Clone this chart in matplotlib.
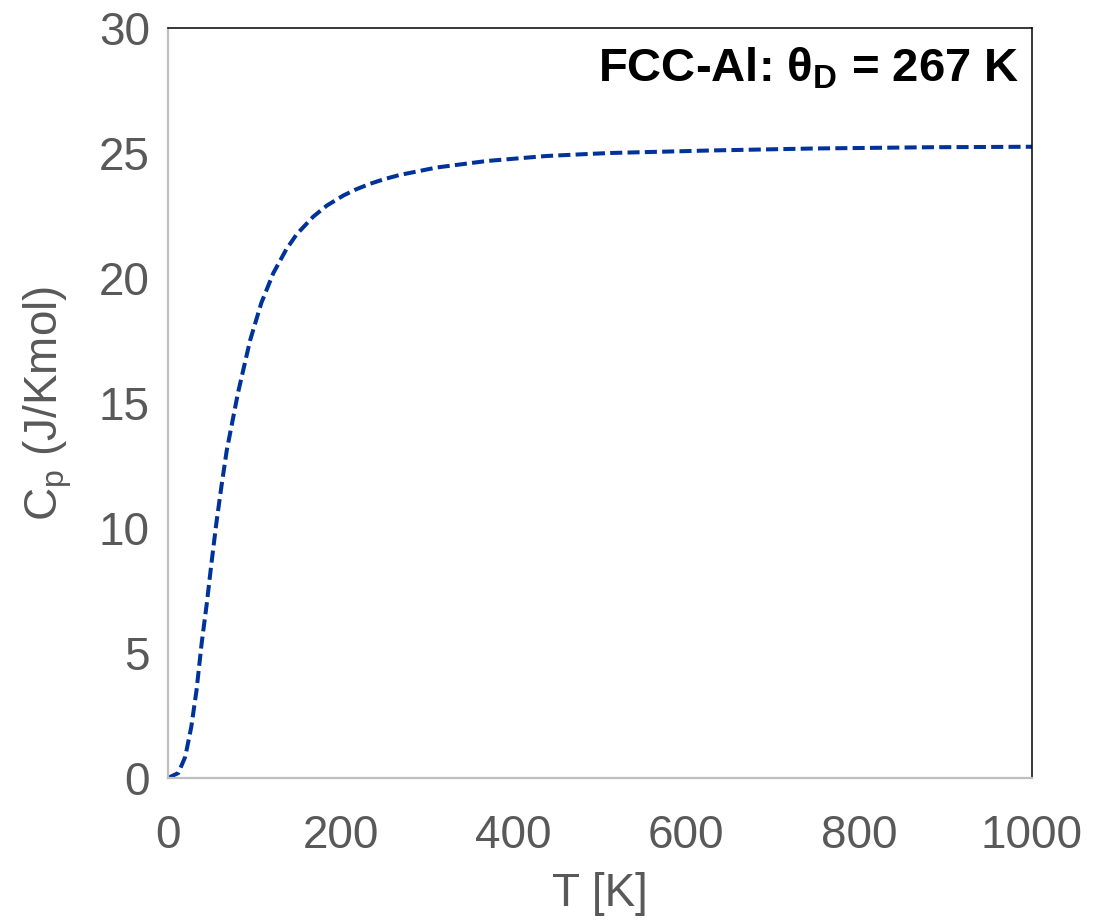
# ------------------------------------------------------------
# Imports
# ------------------------------------------------------------
import matplotlib
matplotlib.use("Agg")
import matplotlib.pyplot as plt


# ------------------------------------------------------------
# Data (T in K, Cp in J/Kmol)
# ------------------------------------------------------------
temp_K = [0, 12, 20, 27, 33, 39, 45, 50, 56, 62, 68, 81, 95, 108, 122,
          137, 149, 168, 184, 203, 218, 234, 250, 268, 311, 369, 438,
          492, 512, 627, 747, 882, 1000]
cp = [0, 0.2, 0.85, 2.05, 3.5, 5.4, 7.0, 8.5, 10.2, 11.7, 13.1, 15.4,
      17.5, 19.0, 20.2, 21.15, 21.75, 22.45, 22.9, 23.3, 23.55, 23.77, 23.95,
      24.12, 24.42, 24.68, 24.88, 24.97, 25.0, 25.1, 25.18, 25.23, 25.25]

x_ticks = [0, 200, 400, 600, 800, 1000]
y_ticks = [0, 5, 10, 15, 20, 25, 30]

label_text = "FCC-Al: θ$_\\mathbf{D}$ = 267 K"


# ------------------------------------------------------------
# Fonts
# ------------------------------------------------------------
plt.rcParams["font.family"] = ["Liberation Sans", "DejaVu Sans"]
plt.rcParams["mathtext.fontset"] = "custom"
plt.rcParams["mathtext.rm"] = "Liberation Sans"
plt.rcParams["mathtext.it"] = "Liberation Sans:italic"
plt.rcParams["mathtext.bf"] = "Liberation Sans:bold"

grey = "#595959"


# ------------------------------------------------------------
# Plot
# ------------------------------------------------------------
fig = plt.figure(figsize=(11.03, 9.21), dpi=100)
ax = fig.add_axes([0.1523, 0.1553, 0.7833, 0.8143])

ax.plot(temp_K, cp, color="#003399", lw=2.9, linestyle=(0, (3, 1.3)))

ax.set_xlim(0, 1000)
ax.set_ylim(0, 30)
ax.set_xticks(x_ticks)
ax.set_yticks(y_ticks)

ax.tick_params(axis="both", length=0, labelsize=33, labelcolor=grey)
ax.tick_params(axis="x", pad=26)
ax.tick_params(axis="y", pad=13)

for side in ["left", "bottom"]:
    ax.spines[side].set_color("#BFBFBF")
    ax.spines[side].set_linewidth(1.6)
for side in ["top", "right"]:
    ax.spines[side].set_color("black")
    ax.spines[side].set_linewidth(1.1)

ax.set_xlabel("T [K]", fontsize=33, color=grey, labelpad=10)
ax.set_ylabel("C$_\\mathrm{p}$ (J/Kmol)", fontsize=33, color=grey, labelpad=18)

ax.text(0.985, 0.945, label_text, transform=ax.transAxes, ha="right",
        va="center", fontsize=34, fontweight="bold", color="black")

fig.savefig("out.png", dpi=100)
